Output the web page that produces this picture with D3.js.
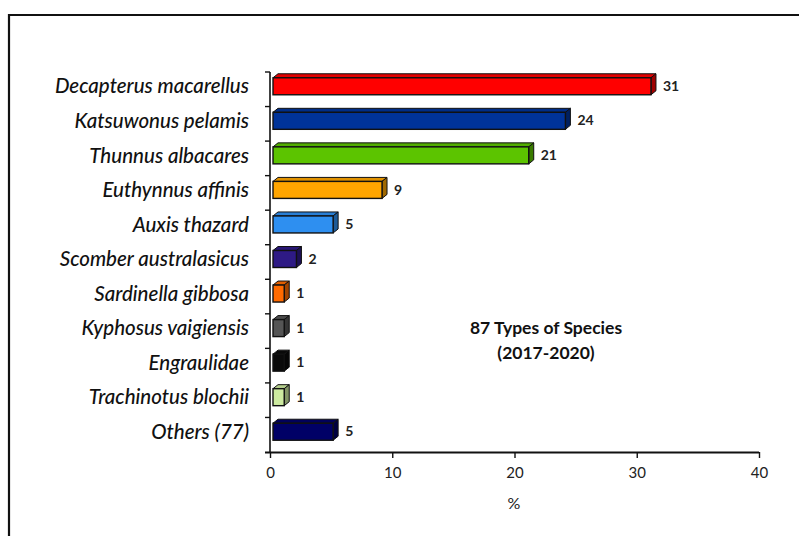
<!DOCTYPE html>
<html>
<head>
<meta charset="utf-8">
<script src="https://cdn.jsdelivr.net/npm/d3@7"></script>
<style>
  html, body { margin: 0; padding: 0; background: #fff; }
  svg { display: block; }
</style>
</head>
<body>
<svg id="chart" width="799" height="536"></svg>
<script>
// Species share of catch, percent
const species = [
  "Decapterus macarellus", "Katsuwonus pelamis", "Thunnus albacares",
  "Euthynnus affinis", "Auxis thazard", "Scomber australasicus",
  "Sardinella gibbosa", "Kyphosus vaigiensis", "Engraulidae",
  "Trachinotus blochii", "Others (77)"
];
const percent = [31, 24, 21, 9, 5, 2, 1, 1, 1, 1, 5];
const fills = [
  "#ff0000", "#003399", "#5cc400", "#ffa500", "#2e8ff0", "#2e1a85",
  "#ff6a00", "#555555", "#0a0a0a", "#cdeaa0", "#000066"
];
const xTicks = [0, 10, 20, 30, 40];
const note = ["87 Types of Species", "(2017-2020)"];
const xTitle = "%";

const svg = d3.select("#chart");
const font = "Lato, 'Open Sans', sans-serif";

// outer frame (top and left edges)
svg.append("path")
  .attr("d", "M9,536 V15 H799")
  .attr("fill", "none").attr("stroke", "#111").attr("stroke-width", 2.2);

const x = d3.scaleLinear().domain([0, 40]).range([270, 759]);
const y = d3.scaleBand().domain(species).range([72, 452]);

// shade helper for the side faces of the bars
const shade = (c, k) => d3.color(c).darker(k).formatHex();

const depthX = 5, depthY = 4, faceH = 17;
const bars = svg.append("g").selectAll("g")
  .data(species.map((s, i) => ({ s, v: percent[i], c: fills[i] })))
  .join("g");

bars.each(function (d) {
  const g = d3.select(this);
  const x0 = x(0) + 3;
  const x1 = x(d.v) + 2;
  const yc = y(d.s) + y.bandwidth() / 2 - 3;
  const y0 = yc - faceH / 2, y1 = yc + faceH / 2;
  // top face
  g.append("path")
    .attr("d", `M${x0},${y0} L${x0 + depthX},${y0 - depthY} L${x1 + depthX},${y0 - depthY} L${x1},${y0} Z`)
    .attr("fill", shade(d.c, 0.35)).attr("stroke", "#111").attr("stroke-width", 1);
  // right face
  g.append("path")
    .attr("d", `M${x1},${y0} L${x1 + depthX},${y0 - depthY} L${x1 + depthX},${y1 - depthY} L${x1},${y1} Z`)
    .attr("fill", shade(d.c, 1.3)).attr("stroke", "#111").attr("stroke-width", 1);
  // front face
  g.append("rect")
    .attr("x", x0).attr("y", y0).attr("width", x1 - x0).attr("height", faceH)
    .attr("fill", d.c).attr("stroke", "#111").attr("stroke-width", 1.4);
  // value label
  g.append("text")
    .attr("x", x1 + depthX + 7).attr("y", yc + 1)
    .attr("dominant-baseline", "middle")
    .attr("font-family", font).attr("font-weight", 700).attr("font-size", 14)
    .attr("fill", "#222")
    .text(d.v);
});

// y axis with ticks on band boundaries
const yAxisG = svg.append("g");
yAxisG.append("line")
  .attr("x1", x(0)).attr("x2", x(0)).attr("y1", 72).attr("y2", 452)
  .attr("stroke", "#111").attr("stroke-width", 1.6);
yAxisG.selectAll("line.tk")
  .data(species.map(s => y(s)))
  .join("line").attr("class", "tk")
  .attr("x1", x(0) - 5).attr("x2", x(0))
  .attr("y1", d => d).attr("y2", d => d)
  .attr("stroke", "#111").attr("stroke-width", 1.4);
yAxisG.selectAll("text")
  .data(species)
  .join("text")
  .attr("x", 249).attr("y", d => y(d) + y.bandwidth() / 2 - 1)
  .attr("text-anchor", "end").attr("dominant-baseline", "middle")
  .attr("font-family", font).attr("font-style", "italic").attr("font-weight", 500)
  .attr("font-size", 20.5).attr("fill", "#111")
  .text(d => d);

// x axis
const xAxisG = svg.append("g").attr("transform", "translate(0,452)")
  .call(d3.axisBottom(x).tickValues(xTicks).tickSize(6).tickSizeOuter(0).tickPadding(9).tickFormat(d3.format("d")));
xAxisG.select(".domain").attr("stroke", "#111").attr("stroke-width", 1.8)
  .attr("d", `M${x(0) - 5},0.5H${x(40)}`);
xAxisG.selectAll(".tick line").attr("stroke", "#111").attr("stroke-width", 1.4);
xAxisG.selectAll(".tick text")
  .attr("font-family", font).attr("font-size", 15).attr("fill", "#222");

svg.append("text")
  .attr("x", 514).attr("y", 509).attr("text-anchor", "middle")
  .attr("font-family", font).attr("font-size", 16).attr("fill", "#222")
  .text(xTitle);

// annotation
svg.append("g").selectAll("text")
  .data(note).join("text")
  .attr("x", 546).attr("y", (d, i) => 334 + i * 25)
  .attr("text-anchor", "middle")
  .attr("font-family", font).attr("font-weight", 700).attr("font-size", 17.5)
  .attr("fill", "#111")
  .text(d => d);
</script>
</body>
</html>
